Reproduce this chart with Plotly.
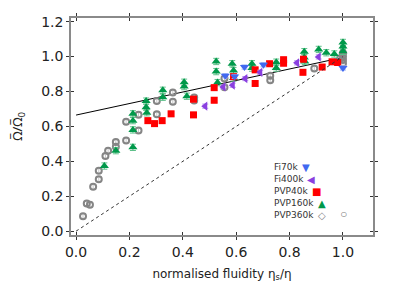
import plotly.graph_objects as go

# ---- data ----
fi70k_x = [0.559, 0.594, 0.631, 0.702, 1.0]
fi70k_y = [0.890, 0.886, 0.940, 0.953, 0.935]

fi400k_x = [0.484, 0.552, 0.587, 0.634, 0.690, 0.828, 0.909]
fi400k_y = [0.716, 0.826, 0.836, 0.874, 0.910, 0.964, 0.998]

pvp40k_x = [0.269, 0.294, 0.3225, 0.356, 0.440, 0.440, 0.5175, 0.5175, 0.590, 0.671, 0.671,
            0.725, 0.7775, 0.7775, 0.850, 0.852, 0.922, 0.959, 0.980]
pvp40k_y = [0.633, 0.616, 0.633, 0.672, 0.666, 0.756, 0.750, 0.822, 0.885, 0.846, 0.924,
            0.959, 0.962, 0.982, 0.910, 0.985, 0.940, 0.970, 0.966]

pvp160k_x = [0.106, 0.149, 0.213, 0.213, 0.213, 0.213, 0.2625, 0.2625, 0.265, 0.325, 0.325,
             0.405, 0.405, 0.415, 0.525, 0.525, 0.530, 0.585, 0.590, 0.590, 0.659, 0.659,
             0.750, 0.750, 0.855, 0.855, 0.857, 0.909, 0.9375, 0.9675, 1.0, 1.0, 1.0]
pvp160k_y = [0.373, 0.461, 0.480, 0.580, 0.633, 0.672, 0.745, 0.710, 0.678, 0.807, 0.767,
             0.853, 0.828, 0.773, 0.972, 0.914, 0.851, 0.959, 0.920, 0.877, 0.959, 0.934,
             0.968, 0.934, 1.028, 0.995, 0.972, 1.041, 1.022, 1.015, 1.081, 1.058, 1.030]

pvp360k_x = [0.026, 0.040, 0.052, 0.064, 0.085, 0.085, 0.110, 0.120, 0.149, 0.149, 0.1875,
             0.1875, 0.234, 0.234, 0.3025, 0.3025, 0.3625, 0.3625, 0.4425, 0.4425, 0.556,
             0.556, 0.7275, 0.7275, 0.8925, 1.0, 1.0, 1.0, 1.0, 0.99]
pvp360k_y = [0.086, 0.159, 0.151, 0.254, 0.297, 0.346, 0.430, 0.461, 0.484, 0.511, 0.520,
             0.626, 0.667, 0.576, 0.745, 0.669, 0.794, 0.741, 0.765, 0.748, 0.874,
             0.825, 0.890, 0.865, 0.932, 0.960, 0.980, 1.000, 1.020, 0.990]

fit_x = [0.0, 1.0]
fit_y = [0.665, 0.995]
ident_x = [0.0, 1.0]
ident_y = [0.0, 1.0]

x_ticks = [0.0, 0.2, 0.4, 0.6, 0.8, 1.0]
y_ticks = [0.0, 0.2, 0.4, 0.6, 0.8, 1.0, 1.2]

legend_names = ["Fi70k", "Fi400k", "PVP40k", "PVP160k", "PVP360k"]

# ---- styles ----
BLUE = "#4169f0"
PURPLE = "#8a3fe0"
RED = "#ff0000"
GREEN = "#00994a"
GREY = "#858585"
FONT = "DejaVu Sans"

XR = [-0.019, 1.1125]
YR = [-0.022, 1.221]

fig = go.Figure()

fig.add_trace(go.Scatter(x=fit_x, y=fit_y, mode="lines",
                         line=dict(color="black", width=1), showlegend=False))
fig.add_trace(go.Scatter(x=ident_x, y=ident_y, mode="lines",
                         line=dict(color="#333", width=1, dash="3px,3px"),
                         showlegend=False, xaxis="x2", yaxis="y2"))


def add_series(x, y, symbol, color, size, errcolor, err, line=None):
    m = dict(symbol=symbol, color=color, size=size)
    m["line"] = line if line else dict(width=0)
    fig.add_trace(go.Scatter(
        x=x, y=y, mode="markers", marker=m, showlegend=False,
        error_y=dict(type="constant", value=err, color=errcolor, thickness=1, width=3)))


add_series(pvp360k_x, pvp360k_y, "circle-open", GREY, 6, "#c8c8c8", 0.012,
           line=dict(color=GREY, width=2))
add_series(pvp160k_x, pvp160k_y, "triangle-up", GREEN, 8, "#5fc08a", 0.018)
add_series(pvp40k_x, pvp40k_y, "square", RED, 7, "#ff8a8a", 0.015)
add_series(fi400k_x, fi400k_y, "triangle-left", PURPLE, 8, "#b99aee", 0.012)
add_series(fi70k_x, fi70k_y, "triangle-down", BLUE, 8, "#9ab0f5", 0.012)

# ---- legend (text on the left, symbol on the right) ----
row_y = [0.366, 0.297, 0.228, 0.159, 0.090]
sym = [("▼", BLUE, 0.8625), ("◀", PURPLE, 0.881), ("■", RED, 0.899),
       ("▲", GREEN, 0.921), ("<b>◇</b>", GREY, 0.923)]
for name, ry, (s, c, sx) in zip(legend_names, row_y, sym):
    fig.add_annotation(x=0.734, y=ry, xref="x", yref="y", text=name, showarrow=False,
                       xanchor="left", yanchor="middle",
                       font=dict(family=FONT, size=9, color="#333"))
    fig.add_annotation(x=sx, y=ry, xref="x", yref="y", text=s, showarrow=False,
                       xanchor="center", yanchor="middle",
                       font=dict(family=FONT, size=10, color=c))
fig.add_annotation(x=1.002, y=row_y[4], xref="x", yref="y", text="<b>◦</b>", showarrow=False,
                   xanchor="center", yanchor="middle",
                   font=dict(family=FONT, size=15, color=GREY))

axis_common = dict(showline=True, linecolor="#8a8a8a", linewidth=1.5,
                   ticks="outside", ticklen=3, tickwidth=1, tickcolor="#333",
                   mirror="ticks", showgrid=False, zeroline=False, automargin=False,
                   tickfont=dict(family=FONT, size=14, color="#222"))

# The page body has an 8px default margin, so the figure is offset by it.
fig.update_layout(
    width=407, height=283,
    margin=dict(l=63, r=42, t=10, b=56),
    paper_bgcolor="white", plot_bgcolor="white",
    showlegend=False,
    xaxis=dict(range=XR, tickvals=x_ticks, tickformat=".1f",
               title=dict(text="normalised fluidity η<sub>s</sub>/η", standoff=11,
                          font=dict(family=FONT, size=12, color="#222")),
               **axis_common),
    yaxis=dict(range=YR, tickvals=y_ticks, tickformat=".1f",
               title=dict(text="Ω\u0305/Ω\u0305<sub>0</sub>", standoff=17,
                          font=dict(family="Noto Sans", size=13, color="#222")),
               **axis_common),
    xaxis2=dict(range=XR, overlaying="x", side="bottom", tickvals=x_ticks,
                showticklabels=False, ticks="inside", ticklen=3, tickwidth=1,
                tickcolor="#333", mirror="ticks", showline=False, showgrid=False,
                zeroline=False),
    yaxis2=dict(range=YR, overlaying="y", side="left", tickvals=y_ticks,
                showticklabels=False, ticks="inside", ticklen=3, tickwidth=1,
                tickcolor="#333", mirror="ticks", showline=False, showgrid=False,
                zeroline=False),
)

fig.write_html("out.html")
